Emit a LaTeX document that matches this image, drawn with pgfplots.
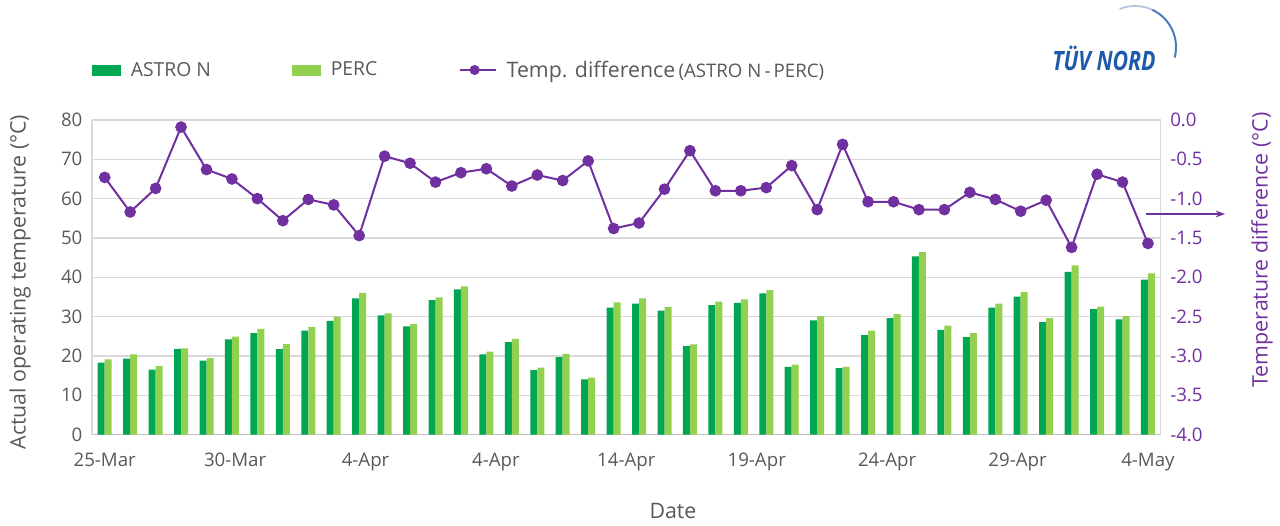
\documentclass[border=0pt]{standalone}
\usepackage{fontspec}
\setmainfont{Open Sans}
\usepackage{graphicx}
\usepackage{pgfplots}
\usepackage{pgfplotstable}
\pgfplotsset{compat=1.18}
\usetikzlibrary{arrows.meta}
\definecolor{dgreen}{RGB}{0,166,81}
\definecolor{lgreen}{RGB}{146,208,80}
\definecolor{vpurple}{RGB}{112,48,160}
\definecolor{tgray}{RGB}{89,89,89}
\definecolor{ggray}{RGB}{217,217,217}
\definecolor{agray}{RGB}{191,191,191}
\definecolor{logoblue}{RGB}{30,90,170}

\pgfplotsset{
  mylinelegend/.style={legend image code/.code={%
    \draw[mark repeat=2,mark phase=2,##1,mark size=3pt] plot coordinates {(0pt,0pt) (11.25pt,0pt) (22.5pt,0pt)};
    \path (22.5pt,0pt) -- (27pt,0pt);}},
  darkswatch/.style={legend image code/.code={\fill[dgreen] (0pt,-3.75pt) rectangle (21pt,3.75pt);}},
  lightswatch/.style={legend image code/.code={\fill[lgreen] (0pt,-3.75pt) rectangle (21pt,3.75pt);}},
}

\pgfplotstableread{
x a b d
0 18.3 19.1 -0.73
1 19.3 20.4 -1.17
2 16.5 17.4 -0.87
3 21.8 21.9 -0.09
4 18.8 19.4 -0.63
5 24.2 24.9 -0.75
6 25.8 26.9 -1.00
7 21.7 23.0 -1.28
8 26.4 27.4 -1.01
9 28.9 30.0 -1.08
10 34.6 36.0 -1.47
11 30.3 30.8 -0.46
12 27.5 28.1 -0.55
13 34.2 34.9 -0.79
14 36.9 37.7 -0.67
15 20.4 21.1 -0.62
16 23.5 24.3 -0.84
17 16.4 17.0 -0.70
18 19.7 20.5 -0.77
19 14.0 14.5 -0.52
20 32.3 33.6 -1.38
21 33.3 34.6 -1.31
22 31.5 32.4 -0.88
23 22.5 22.9 -0.39
24 32.9 33.8 -0.90
25 33.5 34.4 -0.90
26 35.9 36.7 -0.86
27 17.2 17.8 -0.58
28 29.0 30.1 -1.14
29 16.9 17.2 -0.31
30 25.3 26.4 -1.04
31 29.6 30.6 -1.04
32 45.3 46.4 -1.14
33 26.6 27.7 -1.14
34 24.8 25.8 -0.92
35 32.3 33.3 -1.01
36 35.1 36.3 -1.16
37 28.6 29.6 -1.02
38 41.4 43.0 -1.62
39 31.9 32.5 -0.69
40 29.3 30.1 -0.79
41 39.4 41.0 -1.57
}\data

\begin{document}
\begin{tikzpicture}
\useasboundingbox (0pt,0pt) rectangle (960pt,393.75pt);

\begin{axis}[
  at={(69pt,67.875pt)}, anchor=south west,
  scale only axis, width=801.5pt, height=235.875pt,
  xmin=-0.5, xmax=41.5, ymin=0, ymax=80,
  ytick={0,10,...,80},
  xtick={0,5.125,10.25,15.375,20.5,25.625,30.75,35.875,41},
  xticklabels={25-Mar,30-Mar,4-Apr,4-Apr,14-Apr,19-Apr,24-Apr,29-Apr,4-May},
  axis x line*=bottom, axis y line*=left,
  axis line style={-},
  x axis line style={draw=agray, line width=1.2pt},
  y axis line style={draw=ggray, line width=1pt},
  ymajorgrids, grid style={draw=ggray, line width=1pt},
  major tick length=0pt,
  /pgf/number format/assume math mode=true,
  tick label style={font=\fontsize{14pt}{16pt}\selectfont, text=tgray},
  yticklabel style={inner sep=0pt, xshift=-7pt},
  xticklabel style={inner sep=0pt, yshift=-14pt},
  ybar=0pt, bar width=5.25pt,
  clip=false,
]
\addplot[fill=dgreen, draw=none] table[x=x,y=a]{\data};
\addplot[fill=lgreen, draw=none] table[x=x,y=b]{\data};
\end{axis}

\begin{axis}[
  at={(69pt,67.875pt)}, anchor=south west,
  scale only axis, width=801.5pt, height=235.875pt,
  xmin=-0.5, xmax=41.5, ymin=-4, ymax=0,
  ytick={-4,-3.5,...,0},
  axis x line=none, axis y line*=right,
  axis line style={-},
  y axis line style={draw=ggray, line width=1pt},
  major tick length=0pt,
  /pgf/number format/assume math mode=true,
  /pgf/number format/.cd, fixed, fixed zerofill, precision=1, /pgfplots/.cd,
  yticklabel style={font=\fontsize{14pt}{16pt}\selectfont, text=vpurple, inner sep=0pt, xshift=7pt},
  clip=false,
  legend columns=3,
  legend style={at={(0,1.159)}, anchor=west, draw=none, fill=none, inner sep=0pt,
    font=\fontsize{14.5pt}{17pt}\selectfont, text=tgray,
    nodes={inner sep=0pt},
    /tikz/every odd column/.append style={column sep=7.5pt},
    /tikz/every even column/.append style={column sep=61pt}},
]
\addlegendimage{darkswatch}
\addlegendentry{ASTRO N}
\addlegendimage{lightswatch}
\addlegendentry{PERC}
\addplot[color=vpurple, line width=1.5pt, mark=*, mark size=3.6pt, mylinelegend]
  table[x=x,y=d]{\data};
\addlegendentry{{\fontsize{16pt}{18pt}\selectfont Temp. difference}\,{\fontsize{14pt}{16pt}\selectfont (ASTRO N\,-\,PERC)}}
\end{axis}

% axis titles
\node[rotate=90, text=tgray, font=\fontsize{16pt}{18pt}\selectfont] at (15pt,{(525-282)*0.75pt}) {Actual operating temperature (°C)};
\node[rotate=90, text=vpurple, font=\fontsize{16pt}{18pt}\selectfont] at ({1262*0.75pt},{(525-250)*0.75pt}) {Temperature difference (°C)};
\node[text=tgray, font=\fontsize{16pt}{18pt}\selectfont] at ({673*0.75pt},{(525-511)*0.75pt}) {Date};

% arrow pointing to secondary axis
\draw[vpurple, line width=1.1pt, -{Stealth[length=7pt,width=5pt]}] (859.5pt,233.25pt) -- (918.75pt,233.25pt);

% logo
\node[text=logoblue, inner sep=0pt] at (828pt,350.25pt) {\scalebox{0.8}[1]{\fontsize{20pt}{21pt}\selectfont\bfseries\itshape TÜV NORD}};
\draw[logoblue!35, line width=1.3pt] ([shift={(112:30.75pt)}]851.25pt,358.5pt) arc[start angle=112, end angle=65, radius=30.75pt];
\draw[logoblue!80, line width=1.5pt] ([shift={(65:30.75pt)}]851.25pt,358.5pt) arc[start angle=65, end angle=-15, radius=30.75pt];
\end{tikzpicture}
\end{document}
